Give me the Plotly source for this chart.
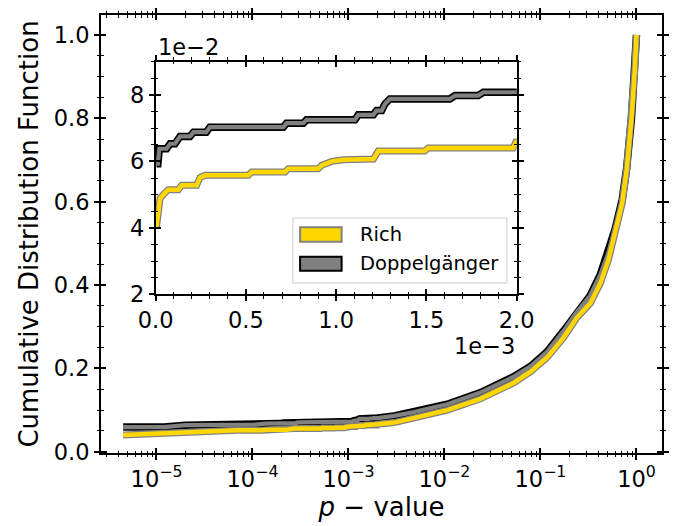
import plotly.graph_objects as go
import numpy as np

# ---------------- data ----------------
rich_p = [4.5e-6, 1.5e-5, 2.4e-5, 4.2e-5, 7.0e-5, 1.25e-4, 1.44e-4, 2.27e-4, 2.45e-4, 2.73e-4,
          5.13e-4, 5.32e-4, 7.16e-4, 7.35e-4, 9.0e-4, 9.2e-4, 9.47e-4, 9.75e-4, 1.04e-3, 1.206e-3,
          1.233e-3, 1.49e-3, 1.51e-3, 1.98e-3, 1.995e-3, 3.0e-3, 4.8e-3, 1.07e-2, 2.37e-2, 5.25e-2,
          7.9e-2, 0.117, 0.174, 0.24, 0.33, 0.42, 0.51, 0.60, 0.71, 0.79, 0.887, 0.96, 1.0]
rich_cdf = [0.0403, 0.0463, 0.0488, 0.0500, 0.0515, 0.0515, 0.0528, 0.0528, 0.0551, 0.0558,
            0.0558, 0.0568, 0.0568, 0.0578, 0.0578, 0.0588, 0.0593, 0.0600, 0.0605, 0.0607,
            0.0631, 0.0631, 0.0640, 0.0640, 0.0658, 0.0700, 0.0810, 0.1000, 0.1270, 0.1650,
            0.1920, 0.2260, 0.2740, 0.3220, 0.3560, 0.4040, 0.4600, 0.5240, 0.5960, 0.6760,
            0.7960, 0.9160, 1.0]

dop_p = [4.5e-6, 1.2e-5, 2.0e-5, 6.0e-5, 8.0e-5, 1.07e-4, 1.35e-4, 1.9e-4, 2.1e-4, 2.8e-4,
         3.0e-4, 7.07e-4, 7.25e-4, 8.18e-4, 8.36e-4, 1.104e-3, 1.122e-3, 1.206e-3, 1.224e-3, 1.252e-3,
         1.27e-3, 1.298e-3, 1.63e-3, 1.658e-3, 1.787e-3, 1.815e-3, 2.0e-3, 3.0e-3, 4.8e-3, 1.07e-2,
         2.37e-2, 5.25e-2, 7.9e-2, 0.117, 0.174, 0.24, 0.33, 0.42, 0.51, 0.60, 0.71, 0.79, 0.887, 0.96, 1.0]
dop_cdf = [0.0593, 0.0593, 0.0638, 0.0638, 0.0653, 0.0653, 0.0675, 0.0675, 0.0688, 0.0688,
           0.0703, 0.0703, 0.0715, 0.0715, 0.0725, 0.0725, 0.0740, 0.0740, 0.0753, 0.0753,
           0.0773, 0.0788, 0.0788, 0.0798, 0.0798, 0.0808, 0.0808, 0.0860, 0.0950, 0.1140,
           0.1420, 0.1800, 0.2050, 0.2400, 0.2900, 0.3360, 0.3750, 0.4250, 0.4780, 0.5350,
           0.6050, 0.6800, 0.8000, 0.9180, 1.0]

series_names = ["Rich", "Doppelgänger"]
main_xtick_vals = [1e-5, 1e-4, 1e-3, 1e-2, 1e-1, 1e0]
main_xtick_text = ["10<sup>−5</sup>", "10<sup>−4</sup>", "10<sup>−3</sup>",
                   "10<sup>−2</sup>", "10<sup>−1</sup>", "10<sup>0</sup>"]
main_ytick_vals = [0.0, 0.2, 0.4, 0.6, 0.8, 1.0]
main_ytick_text = ["0.0", "0.2", "0.4", "0.6", "0.8", "1.0"]
inset_xtick_vals = [0.0, 0.0005, 0.001, 0.0015, 0.002]
inset_xtick_text = ["0.0", "0.5", "1.0", "1.5", "2.0"]
inset_ytick_vals = [0.02, 0.04, 0.06, 0.08]
inset_ytick_text = ["2", "4", "6", "8"]

# ---------------- styling ----------------
GOLD = "#FFD700"
GRAY = "#808080"
BLACK = "#000000"
FONT = "DejaVu Sans"
TICK_FS = 22.5
LEG_FS = 19.5
TITLE_FS = 26

main_xminor = [m * 10.0 ** e for e in range(-6, 1) for m in range(2, 10)]
main_yminor = [round(0.05 * i, 2) for i in range(0, 22) if (i % 4) != 0]
inset_xminor = [round(0.0001 * i, 5) for i in range(0, 21) if i % 5 != 0]
inset_yminor = [round(0.005 * i, 3) for i in range(4, 19) if i % 4 != 0]

fig = go.Figure()

def add_pair(xa, ya):
    # Doppelganger: black outline, gray core
    fig.add_trace(go.Scatter(x=dop_p, y=dop_cdf, mode="lines", xaxis=xa, yaxis=ya,
                             line=dict(color=BLACK, width=7.5), showlegend=False, hoverinfo="skip"))
    fig.add_trace(go.Scatter(x=dop_p, y=dop_cdf, mode="lines", xaxis=xa, yaxis=ya,
                             line=dict(color=GRAY, width=4.2), showlegend=False,
                             name=series_names[1]))
    # Rich: gray outline, gold core
    fig.add_trace(go.Scatter(x=rich_p, y=rich_cdf, mode="lines", xaxis=xa, yaxis=ya,
                             line=dict(color=GRAY, width=7.0), showlegend=False, hoverinfo="skip"))
    fig.add_trace(go.Scatter(x=rich_p, y=rich_cdf, mode="lines", xaxis=xa, yaxis=ya,
                             line=dict(color=GOLD, width=4.5), showlegend=False,
                             name=series_names[0]))

add_pair("x", "y")
add_pair("x2", "y2")
# dummy traces so the overlay (inside-tick) axes exist
fig.add_trace(go.Scatter(x=[None], y=[None], xaxis="x3", yaxis="y3", showlegend=False))
fig.add_trace(go.Scatter(x=[None], y=[None], xaxis="x4", yaxis="y4", showlegend=False))

XR = [-5.578, 0.266]
YR = [-0.003, 1.048]
IXR = [0.0, 0.002]
IYR = [0.02, 0.09]
IXD = [0.0975, 0.741]
IYD = [0.3623, 0.8934]

tickfont = dict(family=FONT, size=TICK_FS, color="black")

def major_axis(**kw):
    d = dict(showline=True, linecolor="black", linewidth=1.8, mirror="ticks",
             ticks="outside", ticklen=5, tickwidth=2, tickcolor="black", automargin=False,
             showgrid=False, zeroline=False, tickfont=tickfont, tickmode="array")
    d.update(kw)
    return d

def inner_axis(**kw):
    d = dict(showline=False, mirror="ticks", ticks="inside", ticklen=5, tickwidth=2,
             tickcolor="black", showgrid=False, zeroline=False, showticklabels=False,
             tickmode="array", automargin=False)
    d.update(kw)
    return d

def minor(vals, side):
    return dict(tickmode="array", tickvals=vals, ticks=side, ticklen=2.5, tickwidth=1,
                tickcolor="black", showgrid=False)

fig.update_layout(
    width=683, height=526,
    margin=dict(l=101, r=21, t=15, b=73, autoexpand=False),
    paper_bgcolor="white", plot_bgcolor="white",
    showlegend=False,
    font=dict(family=FONT, color="black"),
    xaxis=major_axis(type="log", range=XR, tickvals=main_xtick_vals, ticktext=main_xtick_text,
                     minor=minor(main_xminor, "outside"), anchor="y",
                     title=dict(text="<i>p</i> − value", font=dict(family=FONT, size=TITLE_FS),
                                standoff=6)),
    yaxis=major_axis(range=YR, tickvals=main_ytick_vals, ticktext=main_ytick_text,
                     minor=minor(main_yminor, "outside"), anchor="x",
                     title=dict(text="Cumulative Distribution Function",
                                font=dict(family=FONT, size=TITLE_FS), standoff=8)),
    xaxis3=inner_axis(type="log", range=XR, tickvals=main_xtick_vals, overlaying="x", anchor="y",
                      minor=minor(main_xminor, "inside")),
    yaxis3=inner_axis(range=YR, tickvals=main_ytick_vals, overlaying="y", anchor="x",
                      minor=minor(main_yminor, "inside")),
    xaxis2=major_axis(range=IXR, domain=IXD, anchor="y2", tickvals=inset_xtick_vals,
                      ticktext=inset_xtick_text, minor=minor(inset_xminor, "outside")),
    yaxis2=major_axis(range=IYR, domain=IYD, anchor="x2", tickvals=inset_ytick_vals,
                      ticktext=inset_ytick_text, minor=minor(inset_yminor, "outside")),
    xaxis4=inner_axis(range=IXR, tickvals=inset_xtick_vals, overlaying="x2", anchor="y2",
                      minor=minor(inset_xminor, "inside")),
    yaxis4=inner_axis(range=IYR, tickvals=inset_ytick_vals, overlaying="y2", anchor="x2",
                      minor=minor(inset_yminor, "inside")),
)

# offset texts of the inset
fig.add_annotation(text="1e−2", xref="x2 domain", yref="y2 domain", x=0.0, y=1.063,
                   xanchor="left", yanchor="middle", showarrow=False,
                   font=dict(family=FONT, size=TICK_FS, color="black"))
fig.add_annotation(text="1e−3", xref="x2 domain", yref="y2 domain", x=1.0, y=-0.222,
                   xanchor="right", yanchor="middle", showarrow=False,
                   font=dict(family=FONT, size=TICK_FS, color="black"))

# legend (drawn manually inside the inset)
fig.add_shape(type="rect", xref="x2 domain", yref="y2 domain", x0=0.380, x1=0.973,
              y0=0.0486, y1=0.328, line=dict(color="#cccccc", width=1),
              fillcolor="rgba(255,255,255,0.8)", layer="above")
leg_rows = [(series_names[0], GOLD, GRAY, 0.226, 0.288, 0.257),
            (series_names[1], GRAY, BLACK, 0.1015, 0.1617, 0.1316)]
for name, face, edge, y0, y1, yc in leg_rows:
    fig.add_shape(type="rect", xref="x2 domain", yref="y2 domain", x0=0.400, x1=0.515,
                  y0=y0, y1=y1, line=dict(color=edge, width=2), fillcolor=face, layer="above")
    fig.add_annotation(text=name, xref="x2 domain", yref="y2 domain", x=0.561, y=yc,
                       xanchor="left", yanchor="middle", showarrow=False,
                       font=dict(family=FONT, size=LEG_FS, color="black"))

fig.write_html("out.html")
